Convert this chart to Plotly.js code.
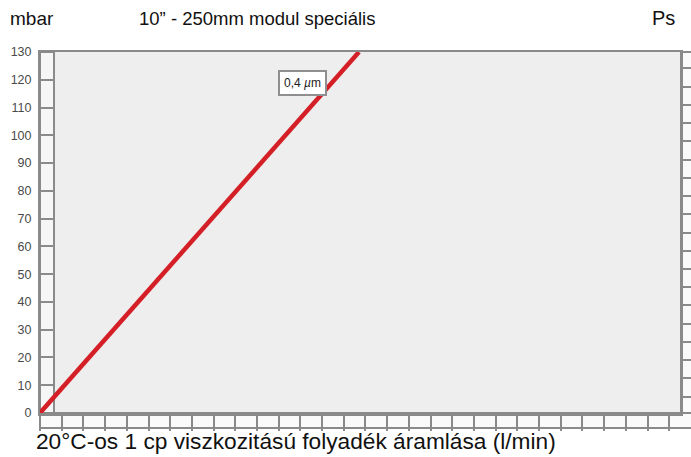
<!DOCTYPE html>
<html>
<head>
<meta charset="utf-8">
<script src="https://cdn.plot.ly/plotly-3.0.1.min.js"></script>
<style>html,body{margin:0;padding:0;background:#fff;}#chart{width:691px;height:457px;}</style>
</head>
<body>
<div id="chart"></div>
<script>
// Data
const flowLmin = [0, 14.7];          // 20°C 1 cp liquid flow (l/min)
const pressureMbar = [0, 130];       // pressure drop (mbar)
const seriesName = "0,4 µm";
const yTickVals = [0, 10, 20, 30, 40, 50, 60, 70, 80, 90, 100, 110, 120, 130];
const yTickText = ["0", "10", "20", "30", "40", "50", "60", "70", "80", "90", "100", "110", "120", "130"];
const titleLeft = "mbar";
const titleMain = "10” - 250mm modul speciális";
const titleRight = "Ps";
const xTitle = "20°C-os 1 cp viszkozitású folyadék áramlása (l/min)";

const FONT = "Liberation Sans, Arial, Helvetica, sans-serif";
const GRAY = "#8a8a8a";

const traces = [
  {
    x: flowLmin, y: pressureMbar, type: "scatter", mode: "lines",
    name: seriesName, line: {color: "#d41f26", width: 4.5},
    cliponaxis: false, hoverinfo: "skip", showlegend: false
  },
  {
    x: [0], y: [0], yaxis: "y2", type: "scatter", mode: "none",
    hoverinfo: "skip", showlegend: false
  }
];

const layout = {
  width: 691, height: 457,
  margin: {l: 40, r: 10, t: 52, b: 44, pad: 0},
  paper_bgcolor: "#ffffff",
  plot_bgcolor: "#eeeeee",
  showlegend: false,
  xaxis: {
    range: [0, 29.54], tick0: 0, dtick: 1,
    showgrid: false, zeroline: false,
    showticklabels: false,
    ticks: "outside", ticklen: 15, tickwidth: 2, tickcolor: GRAY,
    showline: true, linecolor: GRAY, linewidth: 2.5, mirror: true,
    fixedrange: true
  },
  yaxis: {
    range: [0, 130],
    tickmode: "array", tickvals: yTickVals, ticktext: yTickText,
    showgrid: false, zeroline: false,
    ticks: "inside", ticklen: 14, tickwidth: 2, tickcolor: GRAY,
    tickfont: {family: FONT, size: 12.5, color: "#4a4a4a"},
    ticklabelstandoff: 4,
    showline: true, linecolor: GRAY, linewidth: 2,
    fixedrange: true
  },
  yaxis2: {
    overlaying: "y", side: "right",
    range: [0, 19.8], tick0: 0.9, dtick: 1,
    showgrid: false, zeroline: false, showticklabels: false,
    ticks: "outside", ticklen: 10, tickwidth: 2, tickcolor: GRAY,
    showline: true, linecolor: GRAY, linewidth: 2,
    fixedrange: true
  },
  shapes: [
    // left strip
    {type: "rect", xref: "paper", yref: "paper", x0: 0, x1: 14/641, y0: 0, y1: 1,
     fillcolor: "#f6f6f6", line: {color: GRAY, width: 2}, layer: "below"},
    // bottom strip
    {type: "rect", xref: "paper", yref: "paper", x0: 0, x1: 1 + 12/641, y0: -15/361, y1: 0,
     fillcolor: "#fafafa", line: {color: GRAY, width: 2}, layer: "below"},
    // right strip
    {type: "rect", xref: "paper", yref: "paper", x0: 1, x1: 1 + 12/641, y0: 0, y1: 1,
     fillcolor: "#fafafa", line: {color: GRAY, width: 2}, layer: "below"}
  ],
  annotations: [
    {xref: "paper", yref: "paper", x: -32/641, y: 1 + 34/361, xanchor: "left", yanchor: "middle",
     text: titleLeft, showarrow: false, font: {family: FONT, size: 19, color: "#111"}},
    {xref: "paper", yref: "paper", x: (257 - 40)/641, y: 1 + 34/361, xanchor: "center", yanchor: "middle",
     text: titleMain, showarrow: false, font: {family: FONT, size: 18.5, color: "#111"}},
    {xref: "paper", yref: "paper", x: (650 - 40)/641, y: 1 + 34/361, xanchor: "left", yanchor: "middle",
     text: titleRight, showarrow: false, font: {family: FONT, size: 20, color: "#111"}},
    {xref: "paper", yref: "paper", x: (296 - 40)/641, y: -28/361, xanchor: "center", yanchor: "middle",
     text: xTitle, showarrow: false, font: {family: FONT, size: 22.7, color: "#111"}},
    {xref: "x", yref: "y", x: 12.1, y: 119, xanchor: "center", yanchor: "middle",
     text: "0,4 <i>µ</i>m", showarrow: false,
     font: {family: FONT, size: 12, color: "#222"},
     bgcolor: "#ffffff", bordercolor: "#8f8f8f", borderwidth: 2, borderpad: 4}
  ]
};

Plotly.newPlot("chart", traces, layout, {displayModeBar: false, staticPlot: true});
</script>
</body>
</html>
